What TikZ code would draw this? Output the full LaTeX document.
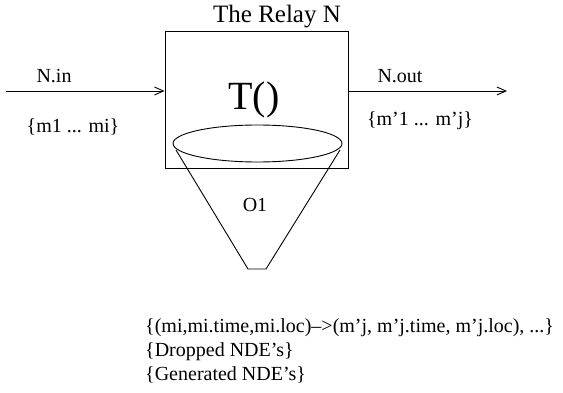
\documentclass[tikz,border=0pt]{standalone}
\usepackage{fontspec}
\setmainfont{Liberation Serif}
\usetikzlibrary{arrows.meta,shapes.geometric}
\tikzset{
  ln/.style={line width=0.9pt},
  arr/.style={ln,-{Straight Barb[length=9pt,width=8pt,line width=0.9pt]}},
  lbl/.style={font=\fontsize{20}{24}\selectfont, inner sep=0pt},
}
\begin{document}
\begin{tikzpicture}[x=1pt,y=-1pt]
\useasboundingbox (0,0) rectangle (563,393);
% relay box
\node[ln, draw, minimum width=183pt, minimum height=137pt, inner sep=0pt] (box) at (256.5,99.5) {};
\node[font=\fontsize{25}{30}\selectfont, inner sep=0pt, anchor=base] (title) at (277,23) {The Relay N};
\node[font=\fontsize{40}{48}\selectfont, inner sep=0pt, anchor=base] (T) at (254,110) {T()};
% ellipse and cone
\node[ln, draw, ellipse, minimum width=169pt, minimum height=37pt, inner sep=0pt] (ell) at (257.5,143.5) {};
\coordinate (cl) at (176,150);
\coordinate (cr) at (340,150);
\coordinate (bl) at (248,269);
\coordinate (br) at (266,269);
\draw[ln] (cl) -- (bl) -- (br) -- (cr);
\node[lbl, anchor=base] (o1) at (255,212) {O1};
% arrows
\coordinate (inS) at (6,91);
\coordinate (outE) at (507,91);
\draw[arr] (inS) -- (box.west |- inS);
\draw[arr] (box.east |- outE) -- (outE);
\node[lbl, anchor=base] (nin) at (54,83) {N.in};
\node[lbl, anchor=base] (min) at (73,133) {\{m1 ... mi\}};
\node[lbl, anchor=base] (nout) at (400,83) {N.out};
\node[lbl, anchor=base] (mout) at (420,126) {\{m’1 ... m’j\}};
% bottom text
\node[lbl, anchor=base west] (l1) at (145,332) {\{(mi,mi.time,mi.loc)–>(m’j, m’j.time, m’j.loc), ...\}};
\node[lbl, anchor=base west] (l2) at (145,356) {\{Dropped NDE’s\}};
\node[lbl, anchor=base west] (l3) at (145,380) {\{Generated NDE’s\}};
\end{tikzpicture}
\end{document}
